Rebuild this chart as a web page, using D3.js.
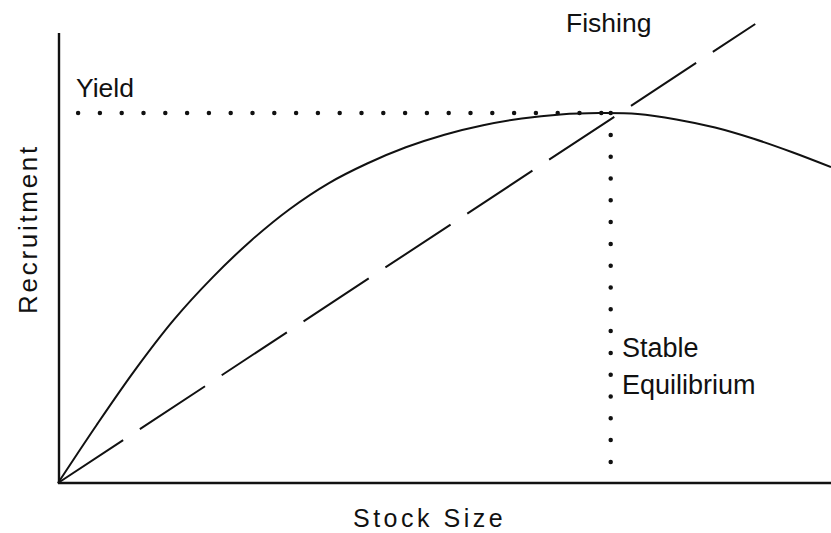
<!DOCTYPE html>
<html lang="en">
<head>
    <meta charset="UTF-8">
    <title>Stock - Recruitment</title>
    <script src="https://d3js.org/d3.v7.min.js"></script>
    <style>
        body { margin: 0; background: #fff; }
        text { font-family: "Liberation Sans", Arial, sans-serif; fill: #111; }
        .axis-line { stroke: #111; stroke-width: 2.4; }
        .curve { fill: none; stroke: #111; stroke-width: 2; }
        .fishing { fill: none; stroke: #111; stroke-width: 2; stroke-dasharray: 78, 20; }
        .dots { fill: none; stroke: #111; stroke-width: 4.5; stroke-linecap: round; stroke-dasharray: 0, 21.8; }
    </style>
</head>
<body>
    <svg width="831" height="533"></svg>

    <script>
        // Recruitment curve (stock size, recruitment)
        const stock = [0, 5, 10, 15, 20, 25, 30, 35, 40, 45, 50, 55, 60, 65, 70, 75, 80, 85, 90, 95, 100];
        const recruitment = [0, 12.9, 25.2, 36.3, 45.7, 53.9, 60.9, 66.6, 71.0, 74.6, 77.4, 79.5, 81.0, 81.9, 82.2, 82.0, 80.8, 79.0, 76.5, 73.5, 70.2];

        // Fishing line (dashed), from origin
        const fishingStock = [0, 90.2];
        const fishingRecruitment = [0, 102];

        // Yield level and stable equilibrium
        const yieldLevel = 82.2;
        const yieldStart = 2.6;
        const equilibriumStock = 71.5;

        const svg = d3.select("svg");

        // Scales: plot area from origin (58,483) to right edge / top of y axis
        const x = d3.scaleLinear().domain([0, 100]).range([58, 831]);
        const y = d3.scaleLinear().domain([0, 100]).range([483, 33]);

        // Axes (plain lines, no ticks)
        svg.append("line").attr("class", "axis-line")
            .attr("x1", x(0) + 1).attr("x2", x(0) + 1)
            .attr("y1", y(100)).attr("y2", y(0) + 1);
        svg.append("line").attr("class", "axis-line")
            .attr("x1", x(0)).attr("x2", x(100))
            .attr("y1", y(0)).attr("y2", y(0));

        // Yield dotted line (horizontal) and equilibrium dotted line (vertical)
        svg.append("path").attr("class", "dots")
            .attr("d", d3.line()([[x(yieldStart), y(yieldLevel)], [x(equilibriumStock), y(yieldLevel)]]));
        svg.append("path").attr("class", "dots")
            .attr("d", d3.line()([[x(equilibriumStock), y(yieldLevel)], [x(equilibriumStock), y(0)]]));

        // Recruitment curve
        const curveData = stock.map((s, i) => ({ s: s, r: recruitment[i] }));
        svg.append("path")
            .datum(curveData)
            .attr("class", "curve")
            .attr("d", d3.line().x(d => x(d.s)).y(d => y(d.r)).curve(d3.curveCatmullRom));

        // Fishing line
        const fishData = fishingStock.map((s, i) => ({ s: s, r: fishingRecruitment[i] }));
        svg.append("path")
            .datum(fishData)
            .attr("class", "fishing")
            .attr("d", d3.line().x(d => x(d.s)).y(d => y(d.r)));

        // Labels
        svg.append("text").attr("x", 76).attr("y", 97)
            .style("font-size", "26.5px").text("Yield");
        svg.append("text").attr("x", 566).attr("y", 32)
            .style("font-size", "26.5px").text("Fishing");
        svg.append("text").attr("x", 622).attr("y", 357)
            .style("font-size", "27px").text("Stable");
        svg.append("text").attr("x", 622).attr("y", 394)
            .style("font-size", "27px").text("Equilibrium");

        // Axis titles
        svg.append("text")
            .attr("transform", "translate(37,229) rotate(-90)")
            .attr("text-anchor", "middle")
            .style("font-size", "26px")
            .style("letter-spacing", "2.7px")
            .text("Recruitment");
        svg.append("text")
            .attr("x", 353).attr("y", 527)
            .style("font-size", "25px")
            .style("letter-spacing", "3.5px")
            .text("Stock Size");
    </script>
</body>
</html>
